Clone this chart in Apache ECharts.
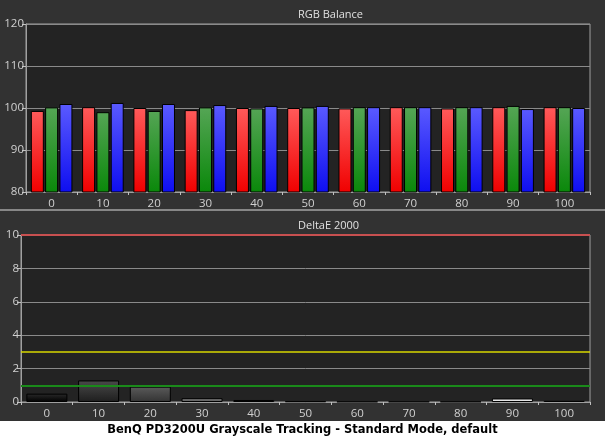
<!DOCTYPE html>
<html>
<head>
<meta charset="utf-8">
<script src="https://cdn.jsdelivr.net/npm/echarts@6/dist/echarts.min.js"></script>
<style>
html,body{margin:0;padding:0;background:#323232;}
#c{width:605px;height:441px;}
</style>
</head>
<body>
<div id="c"></div>
<script>
const categories = ['0','10','20','30','40','50','60','70','80','90','100'];
const redValues   = [99.3, 100.2, 100.0, 99.5, 100.0, 100.0, 99.9, 100.2, 99.9, 100.2, 100.2];
const greenValues = [100.15, 99.0, 99.3, 100.15, 99.9, 100.15, 100.2, 100.2, 100.2, 100.5, 100.2];
const blueValues  = [100.95, 101.2, 100.95, 100.7, 100.5, 100.5, 100.2, 100.2, 100.2, 99.75, 100.0];
const deltaE = [0.5, 1.29, 0.92, 0.23, 0.12, 0.04, 0.02, 0.02, 0.02, 0.21, 0.1];
const rgbTicks = [80, 90, 100, 110, 120];
const deTicks = [0, 2, 4, 6, 8, 10];
const refLines = [10, 3, 1];
const chartTitle = 'BenQ PD3200U Grayscale Tracking - Standard Mode, default';

const shadeTop = ['#2a2a2a','#4a4a4a','#5a5a5a','#808080','#8c8c8c','#3a3a3a','#3a3a3a','#3a3a3a','#3a3a3a','#f4f4f4','#ffffff'];
const shadeBot = ['#000000','#1e1e1e','#333333','#5a5a5a','#6a6a6a','#222222','#222222','#222222','#222222','#d8d8d8','#e8e8e8'];

function grad(top, bottom) {
  return new echarts.graphic.LinearGradient(0, 0, 0, 1, [
    {offset: 0, color: top}, {offset: 1, color: bottom}
  ]);
}
const labelFont = {color: '#d0d0d0', fontSize: 11.5, fontFamily: 'Open Sans'};

const chart = echarts.init(document.getElementById('c'), null, {renderer: 'canvas'});
const option = {
  backgroundColor: '#323232',
  animation: false,
  grid: [
    {left: 26, right: 15, top: 24, height: 168, show: true, backgroundColor: '#232323', borderColor: '#a0a0a0', borderWidth: 1},
    {left: 21, right: 15, top: 235, height: 167, show: true, backgroundColor: '#232323', borderColor: '#a0a0a0', borderWidth: 1}
  ],
  xAxis: [0, 1].map(i => ({
    type: 'category', gridIndex: i, data: categories, boundaryGap: true,
    axisLine: {lineStyle: {color: '#a0a0a0'}},
    axisTick: {show: true, length: 3, lineStyle: {color: '#c0c0c0'}},
    axisLabel: Object.assign({margin: 6}, labelFont),
    splitLine: {show: false}
  })),
  yAxis: [
    {type: 'value', gridIndex: 0, min: rgbTicks[0], max: rgbTicks[rgbTicks.length-1], interval: 10,
     axisLine: {show: true, lineStyle: {color: '#a0a0a0'}},
     axisTick: {show: true, length: 4, lineStyle: {color: '#c0c0c0'}},
     axisLabel: Object.assign({margin: 2}, labelFont),
     splitLine: {show: true, lineStyle: {color: '#8a8a8a', width: 1}}},
    {type: 'value', gridIndex: 1, min: deTicks[0], max: deTicks[deTicks.length-1], interval: 2,
     axisLine: {show: true, lineStyle: {color: '#a0a0a0'}},
     axisTick: {show: true, length: 4, lineStyle: {color: '#c0c0c0'}},
     axisLabel: Object.assign({margin: 2}, labelFont),
     splitLine: {show: true, lineStyle: {color: '#8a8a8a', width: 1}}}
  ],
  series: [
    {type: 'bar', xAxisIndex: 0, yAxisIndex: 0, data: redValues, barWidth: 13, barGap: '10%',
     itemStyle: {color: grad('#ff5a5a', '#f00000'), borderColor: '#000', borderWidth: 1}},
    {type: 'bar', xAxisIndex: 0, yAxisIndex: 0, data: greenValues, barWidth: 13, barGap: '10%',
     itemStyle: {color: grad('#55a555', '#0a880a'), borderColor: '#000', borderWidth: 1}},
    {type: 'bar', xAxisIndex: 0, yAxisIndex: 0, data: blueValues, barWidth: 13, barGap: '10%',
     itemStyle: {color: grad('#5a5aff', '#0e0ef0'), borderColor: '#000', borderWidth: 1}},
    {type: 'bar', xAxisIndex: 1, yAxisIndex: 1, barWidth: 41,
     data: deltaE.map((v, i) => ({value: v, itemStyle: {color: grad(shadeTop[i], shadeBot[i])}})),
     itemStyle: {borderColor: '#000', borderWidth: 1},
     markLine: {
       silent: true, symbol: 'none', label: {show: false},
       data: [
         {yAxis: refLines[0], lineStyle: {color: '#c85050', width: 2, type: 'solid'}},
         {yAxis: refLines[1], lineStyle: {color: '#d8d800', width: 1.5, type: 'solid'}},
         {yAxis: refLines[2], lineStyle: {color: '#1a8a1a', width: 2, type: 'solid'}}
       ]
     }}
  ],
  graphic: [
    {type: 'text', left: 298, top: 9, style: {text: 'RGB Balance', fill: '#e0e0e0', font: '11px "Open Sans"', textAlign: 'center'}},
    {type: 'text', left: 298, top: 220, style: {text: 'DeltaE 2000', fill: '#e0e0e0', font: '11px "Open Sans"', textAlign: 'center'}},
    {type: 'rect', left: 0, top: 209.5, shape: {width: 605, height: 1}, style: {fill: '#dcdcdc'}},
    {type: 'rect', left: 0, top: 421, shape: {width: 605, height: 20}, style: {fill: '#ffffff'}},
    {type: 'text', left: 'center', top: 424, style: {text: chartTitle, fill: '#000', font: 'bold 11.5px "DejaVu Sans"'}}
  ]
};
chart.setOption(option);
</script>
</body>
</html>
